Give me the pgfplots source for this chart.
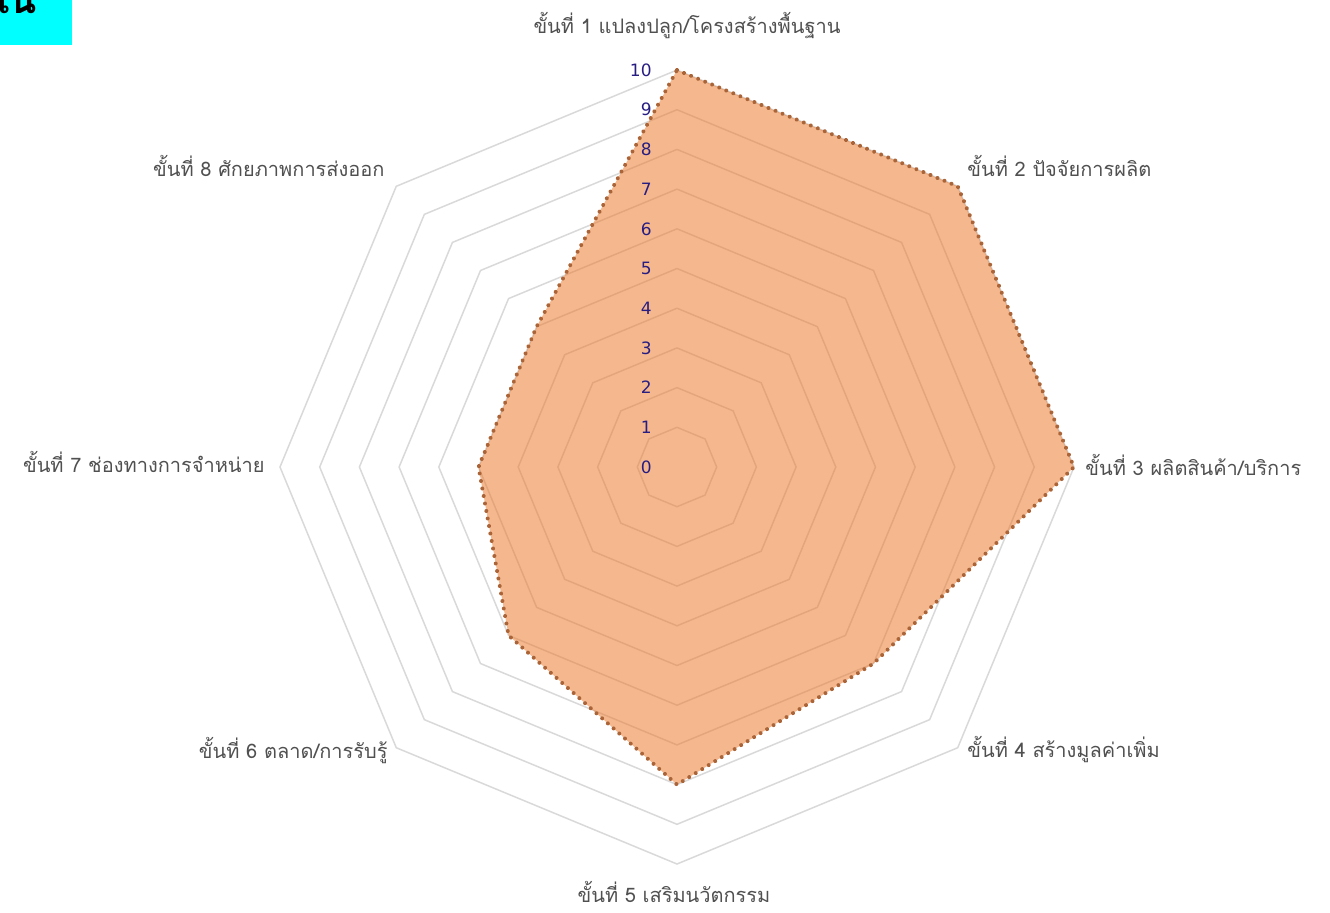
\documentclass[border=0pt]{standalone}
\usepackage{fontspec}
\usepackage{pgfplots}
\pgfplotsset{compat=1.18}
\usepgfplotslibrary{polar}
\setmainfont[Script=Thai]{Loma}
\newfontfamily\numfont{DejaVu Sans}
\definecolor{gridc}{RGB}{217,217,217}
\definecolor{fillc}{RGB}{237,125,49}
\definecolor{edgec}{RGB}{170,100,55}
\definecolor{labc}{RGB}{80,80,80}
\definecolor{tickc}{RGB}{40,30,130}
\definecolor{boxc}{RGB}{0,255,255}
\begin{document}
\begin{tikzpicture}
\useasboundingbox (0,0) rectangle (665pt,-456pt);
\begin{scope}[x=0.5pt,y=-0.5pt]
\fill[boxc] (0,0) rectangle (72,45);
\clip (0,0) rectangle (72,45);
\node[anchor=base west, inner sep=0, font=\bfseries\fontsize{20}{24}\selectfont] at (-10,13) {ใน};
\end{scope}
\begin{polaraxis}[
  at={(338.5pt,-233.5pt)}, anchor=center,
  scale only axis, width=397pt, height=397pt,
  ymin=0, ymax=10, xmin=0, xmax=360,
  hide axis, clip=false,
]
\pgfplotsinvokeforeach{1,...,10}{
  \addplot[gridc, line width=0.75pt, line join=miter] coordinates {(90,#1) (45,#1) (0,#1) (-45,#1) (-90,#1) (-135,#1) (180,#1) (135,#1) (90,#1)};
}
\addplot[draw=edgec, fill=fillc, fill opacity=0.55, line width=2pt, line cap=round, dash pattern=on 0.01pt off 3.8pt]
  coordinates {(90,10) (45,10) (0,10) (-45,7) (-90,8) (-135,6) (180,5) (135,5) (90,10)};
\pgfplotsinvokeforeach{0,...,10}{
  \node[anchor=east, text=tickc, inner sep=0, xshift=-12.5pt, font=\numfont\fontsize{8.5}{10}\selectfont] at (axis cs:90,#1) {#1};
}
\end{polaraxis}
\begin{scope}[x=0.5pt,y=-0.5pt, every node/.style={inner sep=0, text=labc, font=\fontsize{10}{12}\selectfont}]
\node[anchor=base] at (687,33) {ขั้นที่ 1 แปลงปลูก/โครงสร้างพื้นฐาน};
\node[anchor=base west] at (967,176) {ขั้นที่ 2 ปัจจัยการผลิต};
\node[anchor=base west] at (1085,475) {ขั้นที่ 3 ผลิตสินค้า/บริการ};
\node[anchor=base west] at (967,757) {ขั้นที่ 4 สร้างมูลค่าเพิ่ม};
\node[anchor=base] at (674,902) {ขั้นที่ 5 เสริมนวัตกรรม};
\node[anchor=base east] at (388,758) {ขั้นที่ 6 ตลาด/การรับรู้};
\node[anchor=base east] at (265,472) {ขั้นที่ 7 ช่องทางการจำหน่าย};
\node[anchor=base east] at (385,176) {ขั้นที่ 8 ศักยภาพการส่งออก};
\end{scope}
\end{tikzpicture}
\end{document}
